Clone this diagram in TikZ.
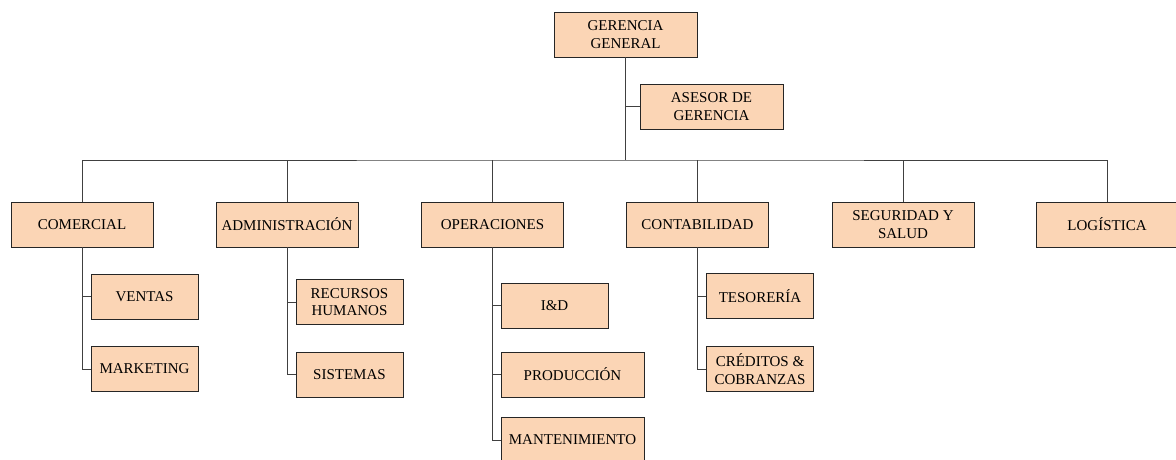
\documentclass[tikz,border=0pt]{standalone}
\usepackage{fontspec}
\setmainfont{Liberation Serif}
\definecolor{durazno}{HTML}{FBD5B5}
\tikzset{
	caja/.style={draw=black!85, fill=durazno, line width=0.8pt, minimum height=45pt, inner sep=1pt, align=center, font=\fontsize{15}{17.5}\selectfont},
	area/.style={caja, minimum width=142pt},
	sub/.style={caja, minimum width=107pt},
	subancha/.style={caja, minimum width=143pt},
	linea/.style={draw=black!75, line width=0.8pt}
}
\begin{document}
\begin{tikzpicture}[x=1pt, y=-1pt]
				\useasboundingbox (0,0) rectangle (1176,460);
				
				% gerencia
				\node[area, minimum width=143pt] (gg) at (625.5,34.5) {GERENCIA\\GENERAL};
				\node[subancha] (asesor) at (711.5,106.5) {ASESOR DE\\GERENCIA};
				\coordinate (bus) at (625.5,160);
				\draw[linea] (gg) -- (bus);
				\draw[linea] (asesor.west) -- (asesor.west -| gg.south);
				
				% areas
				\node[area] (com) at (82,224.5) {COMERCIAL};
				\node[area] (adm) at (287,224.5) {ADMINISTRACIÓN};
				\node[area] (ope) at (492.5,224.5) {OPERACIONES};
				\node[area] (cont) at (697.5,224.5) {CONTABILIDAD};
				\node[area] (seg) at (903,224.5) {SEGURIDAD Y\\SALUD};
				\node[area] (log) at (1107,224.5) {LOGÍSTICA};
				\draw[linea] (com.north) |- (bus) -| (log.north);
				\foreach \a in {adm, ope, cont, seg}{
					\draw[linea] (\a.north) -- (\a.north |- bus);
				}
				
				% comercial
				\node[sub] (ventas) at (144.5,296.5) {VENTAS};
				\node[sub] (mkt) at (144.5,369) {MARKETING};
				
				% administracion
				\node[sub] (rrhh) at (349.5,302) {RECURSOS\\HUMANOS};
				\node[sub] (sis) at (349.5,374.5) {SISTEMAS};
				
				% operaciones
				\node[sub] (iyd) at (554.5,305.5) {I\&D};
				\node[subancha] (prod) at (572.5,374.5) {PRODUCCIÓN};
				\node[subancha] (mant) at (572.5,440) {MANTENIMIENTO};
				
				% contabilidad
				\node[sub] (tes) at (760,296) {TESORERÍA};
				\node[sub] (cred) at (760,369) {CRÉDITOS \&\\COBRANZAS};
				
				\foreach \j/\s in {com/ventas, com/mkt, adm/rrhh, adm/sis, ope/iyd, ope/prod, ope/mant, cont/tes, cont/cred}{
					\draw[linea] (\j.south) |- (\s.west);
				}
			\end{tikzpicture}
\end{document}
